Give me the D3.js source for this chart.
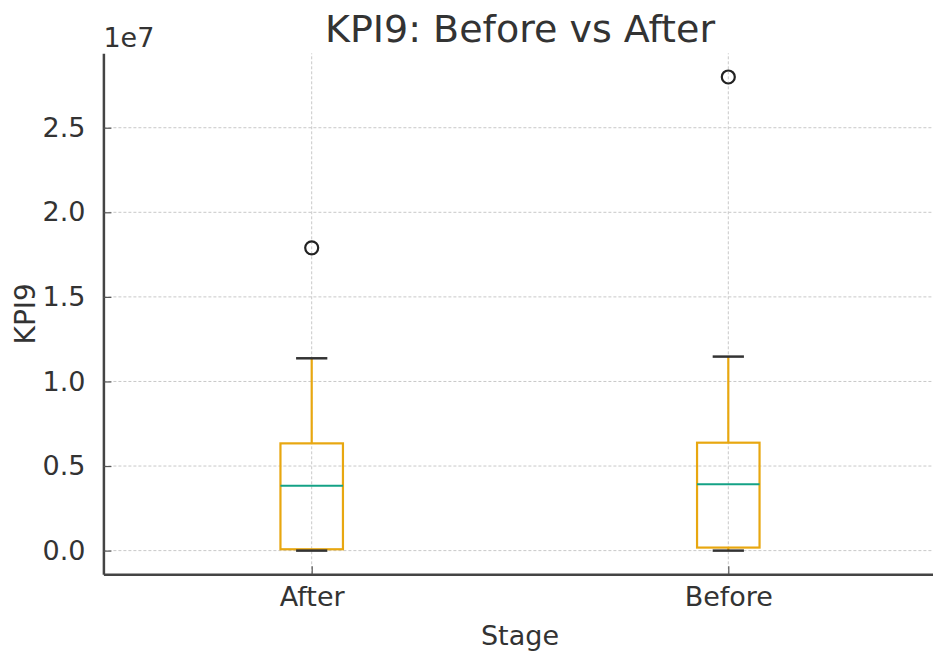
<!DOCTYPE html>
<html>
<head>
<meta charset="utf-8">
<script src="https://cdn.jsdelivr.net/npm/d3@7"></script>
<style>
  body { margin: 0; background: #fff; }
  text { font-family: "DejaVu Sans", sans-serif; fill: #333; }
</style>
</head>
<body>
<script>
// box statistics (values in raw units, axis shows x1e7)
var stages = ["After", "Before"];
var positions = [1, 2];
var whiskerLow = [0, 0];
var q1 = [0.008e7, 0.018e7];
var median = [0.384e7, 0.392e7];
var q3 = [0.634e7, 0.638e7];
var whiskerHigh = [1.137e7, 1.147e7];
var outliers = [[1.79e7], [2.8e7]];
var yTicks = [0, 0.5e7, 1.0e7, 1.5e7, 2.0e7, 2.5e7];

var width = 933, height = 655;
var margin = {left: 103.4, right: -3.6, top: 53.3, bottom: 80.7};

var svg = d3.select("body").append("svg")
    .attr("width", width).attr("height", height);

var x = d3.scaleLinear()
    .domain([0.5, 2.5])
    .range([margin.left, width - margin.right]);
var y = d3.scaleLinear()
    .domain([-0.14e7, 2.94e7])
    .range([height - margin.bottom, margin.top]);

var boxW = x(1.15) - x(1);
var capW = boxW / 2;

// grid
var grid = svg.append("g");
grid.selectAll("line.h").data(yTicks).enter().append("line")
    .attr("x1", x(0.5)).attr("x2", x(2.5))
    .attr("y1", function(d){ return y(d); }).attr("y2", function(d){ return y(d); })
    .attr("stroke", "#c8c8c8").attr("stroke-width", 1).attr("stroke-dasharray", "3,2");
grid.selectAll("line.v").data(positions).enter().append("line")
    .attr("x1", function(d){ return x(d); }).attr("x2", function(d){ return x(d); })
    .attr("y1", y.range()[0]).attr("y2", y.range()[1])
    .attr("stroke", "#c8c8c8").attr("stroke-width", 1).attr("stroke-dasharray", "3,2");

// axes
var yAxis = d3.axisLeft(y).tickValues(yTicks)
    .tickFormat(function(d){ return d3.format(".1f")(d / 1e7); })
    .tickSizeInner(-8).tickSizeOuter(0).tickPadding(18);
var xAxis = d3.axisBottom(x).tickValues(positions)
    .tickFormat(function(d, i){ return stages[i]; })
    .tickSizeInner(-8).tickSizeOuter(0).tickPadding(13);

var gy = svg.append("g").attr("transform", "translate(" + x(0.5) + ",0)").call(yAxis);
var gx = svg.append("g").attr("transform", "translate(0," + y.range()[0] + ")").call(xAxis);
[gx, gy].forEach(function(g){
  g.select(".domain").attr("stroke", "#444").attr("stroke-width", 2.5);
  g.selectAll(".tick line").attr("stroke", "#555").attr("stroke-width", 1.2);
  g.selectAll(".tick text").attr("font-size", 27).attr("fill", "#333")
    .attr("font-family", "DejaVu Sans, sans-serif");
});

// boxes
var boxes = svg.append("g").selectAll("g").data(stages).enter().append("g");
boxes.append("line")
    .attr("x1", function(d, i){ return x(positions[i]); })
    .attr("x2", function(d, i){ return x(positions[i]); })
    .attr("y1", function(d, i){ return y(q3[i]); })
    .attr("y2", function(d, i){ return y(whiskerHigh[i]); })
    .attr("stroke", "#e8a710").attr("stroke-width", 2.2);
boxes.append("line")
    .attr("x1", function(d, i){ return x(positions[i]); })
    .attr("x2", function(d, i){ return x(positions[i]); })
    .attr("y1", function(d, i){ return y(q1[i]); })
    .attr("y2", function(d, i){ return y(whiskerLow[i]); })
    .attr("stroke", "#e8a710").attr("stroke-width", 2.2);
boxes.append("rect")
    .attr("x", function(d, i){ return x(positions[i]) - boxW / 2; })
    .attr("y", function(d, i){ return y(q3[i]); })
    .attr("width", boxW)
    .attr("height", function(d, i){ return y(q1[i]) - y(q3[i]); })
    .attr("fill", "none").attr("stroke", "#e8a710").attr("stroke-width", 2.2);
boxes.append("line")
    .attr("x1", function(d, i){ return x(positions[i]) - boxW / 2; })
    .attr("x2", function(d, i){ return x(positions[i]) + boxW / 2; })
    .attr("y1", function(d, i){ return y(median[i]); })
    .attr("y2", function(d, i){ return y(median[i]); })
    .attr("stroke", "#14a286").attr("stroke-width", 2);
[whiskerHigh, whiskerLow].forEach(function(arr){
  boxes.append("line")
      .attr("x1", function(d, i){ return x(positions[i]) - capW / 2; })
      .attr("x2", function(d, i){ return x(positions[i]) + capW / 2; })
      .attr("y1", function(d, i){ return y(arr[i]); })
      .attr("y2", function(d, i){ return y(arr[i]); })
      .attr("stroke", "#333").attr("stroke-width", 2.5);
});
boxes.each(function(d, i){
  d3.select(this).selectAll("circle").data(outliers[i]).enter().append("circle")
      .attr("cx", x(positions[i]))
      .attr("cy", function(v){ return y(v); })
      .attr("r", 6.5)
      .attr("fill", "none").attr("stroke", "#222").attr("stroke-width", 2.2);
});

// texts
svg.append("text").attr("x", x(0.5)).attr("y", 46.5)
    .attr("font-size", 27).text("1e7");
svg.append("text").attr("x", (x(0.5) + x(2.5)) / 2).attr("y", 42)
    .attr("text-anchor", "middle").attr("font-size", 38).text("KPI9: Before vs After");
svg.append("text").attr("x", (x(0.5) + x(2.5)) / 2).attr("y", 645)
    .attr("text-anchor", "middle").attr("font-size", 27).text("Stage");
svg.append("text")
    .attr("transform", "translate(35," + (y.range()[0] + y.range()[1]) / 2 + ") rotate(-90)")
    .attr("text-anchor", "middle").attr("font-size", 28).text("KPI9");
</script>
</body>
</html>
